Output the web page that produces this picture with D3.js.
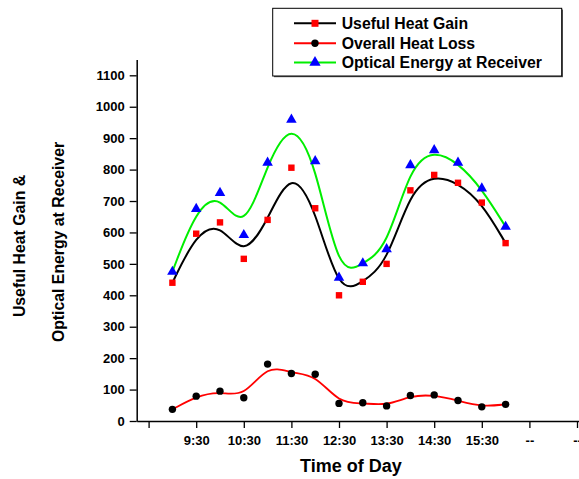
<!DOCTYPE html>
<html>
<head>
<meta charset="utf-8">
<script src="https://cdn.jsdelivr.net/npm/d3@7"></script>
<style>
  body { margin: 0; background: #fff; }
  svg { display: block; overflow: hidden; font-family: "Liberation Sans", Arial, sans-serif; }
</style>
</head>
<body>
<div id="chart"></div>
<script>
// data (hours of day, half-hour steps)
var times = [9, 9.5, 10, 10.5, 11, 11.5, 12, 12.5, 13, 13.5, 14, 14.5, 15, 15.5, 16];
var usefulGain = [440, 596, 632, 516, 640, 806, 677, 400, 443, 500, 734, 783, 758, 695, 566];
var heatLoss = [37, 79, 95, 74, 181, 151, 149, 56, 58, 48, 81, 83, 65, 45, 53];
var optical = [475, 675, 726, 592, 822, 959, 827, 456, 502, 547, 814, 862, 822, 740, 618];

var xMajor = [8.5, 9.5, 10.5, 11.5, 12.5, 13.5, 14.5, 15.5, 16.5, 17.5];
var xLabels = ["", "9:30", "10:30", "11:30", "12:30", "13:30", "14:30", "15:30", "--", "--"];
var xMinor = [9, 10, 11, 12, 13, 14, 15, 16, 17];
var yMajor = [0, 100, 200, 300, 400, 500, 600, 700, 800, 900, 1000, 1100];
var yMinor = [50, 150, 250, 350, 450, 550, 650, 750, 850, 950, 1050, 1150];

var seriesNames = ["Useful Heat Gain", "Overall Heat Loss", "Optical Energy at Receiver"];

var W = 579, H = 479;
var svg = d3.select("#chart").append("svg")
    .attr("width", W)
    .attr("height", H);

var x = d3.scaleLinear()
    .domain([8.25, 18.25])
    .range([136.7, 136.7 + 10 * 47.6]);
var y = d3.scaleLinear()
    .domain([0, 1150])
    .range([421, 59.6]);

var line = function(vals) {
  return d3.line()
    .x(function(d, i) { return x(times[i]); })
    .y(function(d) { return y(d); })
    .curve(d3.curveBasis)(vals);
};

// curves
svg.append("path").attr("d", line(usefulGain))
  .attr("fill", "none").attr("stroke", "#000").attr("stroke-width", 2);
svg.append("path").attr("d", line(heatLoss))
  .attr("fill", "none").attr("stroke", "#ff0000").attr("stroke-width", 1.8);
svg.append("path").attr("d", line(optical))
  .attr("fill", "none").attr("stroke", "#00ee00").attr("stroke-width", 2);

// axes
var yAxis = svg.append("g").attr("transform", "translate(" + x(8.25) + ",0)");
yAxis.call(d3.axisLeft(y).tickValues(yMinor).tickSize(4).tickSizeOuter(0).tickFormat(""));
yAxis.call(d3.axisLeft(y).tickValues(yMajor).tickSize(7).tickSizeOuter(0).tickPadding(5)
  .tickFormat(d3.format("d")));

var xAxis = svg.append("g").attr("transform", "translate(0," + y(0) + ")");
xAxis.call(d3.axisBottom(x).tickValues(xMinor).tickSize(4).tickSizeOuter(0).tickFormat(""));
xAxis.call(d3.axisBottom(x).tickValues(xMajor).tickSize(7).tickSizeOuter(0).tickPadding(8)
  .tickFormat(function(d, i) { return xLabels[i]; }));

svg.selectAll(".domain").attr("stroke", "#000").attr("stroke-width", 1.5);
svg.selectAll(".tick line").attr("stroke", "#000").attr("stroke-width", 1.3);
svg.selectAll(".tick text")
  .attr("fill", "#000")
  .style("font-size", "13px")
  .style("font-weight", "bold")
  .style("font-family", "'Liberation Sans', Arial, sans-serif");

// markers
svg.selectAll(".sq").data(usefulGain).enter().append("rect")
  .attr("x", function(d, i) { return x(times[i]) - 3.2; })
  .attr("y", function(d) { return y(d) - 3.2; })
  .attr("width", 6.4).attr("height", 6.4)
  .attr("fill", "#ff0000");

svg.selectAll(".dot").data(heatLoss).enter().append("circle")
  .attr("cx", function(d, i) { return x(times[i]); })
  .attr("cy", function(d) { return y(d); })
  .attr("r", 3.7)
  .attr("fill", "#000");

svg.selectAll(".tri").data(optical).enter().append("path")
  .attr("d", d3.symbol(d3.symbolTriangle, 48))
  .attr("transform", function(d, i) { return "translate(" + x(times[i]) + "," + y(d) + ")"; })
  .attr("fill", "#0000ff");

// axis titles
svg.append("text")
  .attr("x", x(12.75)).attr("y", 472)
  .attr("text-anchor", "middle")
  .style("font-size", "18px").style("font-weight", "bold")
  .text("Time of Day");

svg.append("text")
  .attr("transform", "translate(25,246) rotate(-90)")
  .attr("text-anchor", "middle")
  .style("font-size", "15.8px").style("font-weight", "bold")
  .text("Useful Heat Gain &");
svg.append("text")
  .attr("transform", "translate(64,242) rotate(-90)")
  .attr("text-anchor", "middle")
  .style("font-size", "15.8px").style("font-weight", "bold")
  .text("Optical Energy at Receiver");

// legend
var lg = svg.append("g");
lg.append("rect")
  .attr("x", 274).attr("y", 9.5).attr("width", 289).attr("height", 67.7)
  .attr("fill", "#555");
lg.append("rect")
  .attr("x", 272.7).attr("y", 8.3).attr("width", 289).attr("height", 67.7)
  .attr("fill", "#fff").attr("stroke", "#000").attr("stroke-width", 1);

var legendColors = ["#000", "#ff0000", "#00ee00"];
var rowY = [23.3, 43.3, 62.6];
seriesNames.forEach(function(name, i) {
  lg.append("line")
    .attr("x1", 294).attr("x2", 336)
    .attr("y1", rowY[i]).attr("y2", rowY[i])
    .attr("stroke", legendColors[i]).attr("stroke-width", 2);
  if (i === 0) {
    lg.append("rect").attr("x", 315 - 3.5).attr("y", rowY[i] - 3.5)
      .attr("width", 7).attr("height", 7).attr("fill", "#ff0000");
  } else if (i === 1) {
    lg.append("circle").attr("cx", 315).attr("cy", rowY[i]).attr("r", 3.7).attr("fill", "#000");
  } else {
    lg.append("path").attr("d", d3.symbol(d3.symbolTriangle, 55))
      .attr("transform", "translate(315," + rowY[i] + ")").attr("fill", "#0000ff");
  }
  lg.append("text")
    .attr("x", 341.7).attr("y", rowY[i] + 5.5)
    .style("font-size", "15.8px").style("font-weight", "bold")
    .text(name);
});
</script>
</body>
</html>
